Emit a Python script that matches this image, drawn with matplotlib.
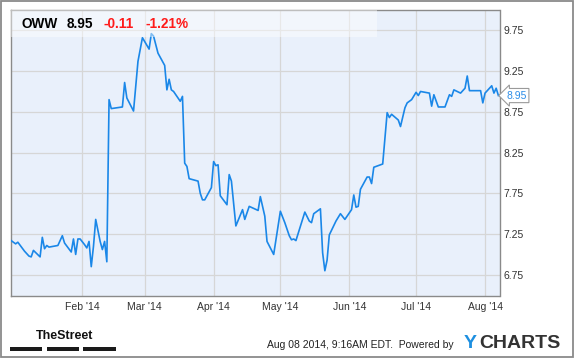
import matplotlib
matplotlib.use("Agg")
import matplotlib.pyplot as plt
import matplotlib.dates as mdates
from matplotlib.patches import Rectangle
import pandas as pd

# OWW daily close
dates = [
    "2013-12-31", "2014-01-02", "2014-01-03", "2014-01-06", "2014-01-08", "2014-01-09",
    "2014-01-10", "2014-01-13", "2014-01-14", "2014-01-15", "2014-01-16", "2014-01-17",
    "2014-01-21", "2014-01-23", "2014-01-24", "2014-01-27", "2014-01-28", "2014-01-29",
    "2014-01-30", "2014-01-31", "2014-02-02", "2014-02-03", "2014-02-04", "2014-02-05",
    "2014-02-06", "2014-02-07", "2014-02-09", "2014-02-10", "2014-02-11", "2014-02-12",
    "2014-02-13", "2014-02-14", "2014-02-19", "2014-02-20", "2014-02-21", "2014-02-24",
    "2014-02-26", "2014-02-28", "2014-03-03", "2014-03-04", "2014-03-05", "2014-03-07",
    "2014-03-10", "2014-03-11", "2014-03-12", "2014-03-13", "2014-03-14", "2014-03-17",
    "2014-03-18", "2014-03-19", "2014-03-20", "2014-03-21", "2014-03-25", "2014-03-26",
    "2014-03-27", "2014-03-28", "2014-03-31", "2014-04-01", "2014-04-02", "2014-04-03",
    "2014-04-04", "2014-04-07", "2014-04-08", "2014-04-09", "2014-04-11", "2014-04-14",
    "2014-04-15", "2014-04-17", "2014-04-21", "2014-04-22", "2014-04-24", "2014-04-25",
    "2014-04-28", "2014-05-01", "2014-05-03", "2014-05-05", "2014-05-06", "2014-05-07",
    "2014-05-08", "2014-05-12", "2014-05-14", "2014-05-15", "2014-05-16", "2014-05-19",
    "2014-05-20", "2014-05-21", "2014-05-22", "2014-05-23", "2014-05-26", "2014-05-28",
    "2014-05-30", "2014-06-02", "2014-06-03", "2014-06-04", "2014-06-05", "2014-06-06",
    "2014-06-09", "2014-06-10", "2014-06-11", "2014-06-12", "2014-06-16", "2014-06-18",
    "2014-06-19", "2014-06-20", "2014-06-23", "2014-06-24", "2014-06-26", "2014-06-27",
    "2014-06-29", "2014-07-01", "2014-07-02", "2014-07-03", "2014-07-07", "2014-07-08",
    "2014-07-09", "2014-07-11", "2014-07-14", "2014-07-16", "2014-07-17", "2014-07-18",
    "2014-07-21", "2014-07-23", "2014-07-24", "2014-07-25", "2014-07-30", "2014-07-31",
    "2014-08-01", "2014-08-04", "2014-08-05", "2014-08-06", "2014-08-07",
]
prices = [
    7.17, 7.13, 7.15, 7.04, 6.98, 6.97,
    7.05, 6.97, 7.21, 7.07, 7.11, 7.09,
    7.11, 7.23, 7.14, 7.03, 7.19, 7.00,
    7.19, 7.19, 7.12, 7.08, 7.16, 6.85,
    7.10, 7.43, 7.16, 7.06, 7.16, 6.91,
    8.90, 8.79, 8.81, 9.11, 8.92, 8.76,
    9.37, 9.66, 9.52, 9.71, 9.68, 9.47,
    9.32, 9.02, 9.15, 9.02, 9.00, 8.88,
    8.94, 8.12, 8.08, 7.93, 7.90, 7.75,
    7.67, 7.67, 7.82, 8.14, 8.09, 8.10,
    7.72, 7.61, 7.98, 7.90, 7.35, 7.55,
    7.43, 7.59, 7.54, 7.71, 7.47, 7.16,
    7.00, 7.53, 7.39, 7.23, 7.18, 7.19,
    7.17, 7.52, 7.41, 7.39, 7.50, 7.56,
    7.02, 6.80, 6.93, 7.24, 7.41, 7.50,
    7.43, 7.55, 7.73, 7.58, 7.59, 7.80,
    7.95, 7.95, 7.87, 8.07, 8.11, 8.74,
    8.68, 8.72, 8.65, 8.57, 8.80, 8.86,
    8.90, 8.99, 8.95, 9.00, 8.98, 8.82,
    8.96, 8.81, 8.81, 8.96, 8.94, 9.02,
    8.98, 9.04, 9.19, 9.01, 9.01, 8.86,
    8.98, 9.07, 8.98, 9.04, 8.95,
]
y_ticks = [6.75, 7.25, 7.75, 8.25, 8.75, 9.25, 9.75]
month_ticks = ["2014-02-01", "2014-03-01", "2014-04-01", "2014-05-01",
               "2014-06-01", "2014-07-01", "2014-08-01"]

W, H = 575, 358
plt.rcParams['font.family'] = ['Liberation Sans', 'DejaVu Sans']

fig = plt.figure(figsize=(W / 100, H / 100), dpi=100)
fig.patch.set_facecolor('white')

def fx(x):
    return x / W

def fy(y):
    return 1 - y / H

ax = fig.add_axes([fx(10.7), fy(296), fx(499.5) - fx(10.7), (296 - 10) / H])
ax.set_facecolor('#e9f0fb')

d = pd.to_datetime(dates)
ax.plot(d, prices, color='#1a87e8', lw=1.2, zorder=3)

ax.set_xlim(pd.Timestamp("2013-12-30 19:00"), pd.Timestamp("2014-08-07 12:00"))
ax.set_ylim(6.49, 10.0)

ax.set_xticks(pd.to_datetime(month_ticks))
ax.xaxis.set_major_formatter(mdates.DateFormatter("%b '%y"))
ax.set_yticks(y_ticks)
ax.set_yticklabels(["%.2f" % v for v in y_ticks])
ax.yaxis.tick_right()
ax.tick_params(axis='y', length=0, pad=2.7, labelsize=7.5, labelcolor='#333333')
ax.tick_params(axis='x', length=0, pad=4.5, labelsize=7.5, labelcolor='#333333')
ax.grid(True, color='#d6d6d6', lw=0.9, zorder=1)
ax.set_axisbelow(True)
for s in ax.spines.values():
    s.set_color('#8a8a8a')
    s.set_linewidth(1.0)

# light header band behind the quote
ax.add_patch(Rectangle((0, 1 - 26.7 / 286), 0.749, 26.7 / 286, transform=ax.transAxes,
                       facecolor='white', alpha=0.45, edgecolor='none', zorder=5))

# quote header
fig.text(fx(21.5), fy(23.5), "OWW", fontsize=9.8, fontweight='bold', color='black', va='center')
fig.text(fx(66.5), fy(23.5), "8.95", fontsize=9.8, fontweight='bold', color='black', va='center')
fig.text(fx(103.5), fy(23.5), "-0.11", fontsize=9.8, fontweight='bold', color='#ff1a1a', va='center')
fig.text(fx(145), fy(23.5), "-1.21%", fontsize=9.8, fontweight='bold', color='#ff1a1a', va='center')

# last price tag
ax.annotate("8.95", xy=(1, prices[-1]), xycoords=('axes fraction', 'data'),
            xytext=(5, 0), textcoords='offset points', va='center', ha='left',
            fontsize=7.5, color='#2b8de8', annotation_clip=False,
            bbox=dict(boxstyle='larrow,pad=0.2', fc='white', ec='#9a9a9a', lw=0.8))

# footer
fig.text(fx(36), fy(336), "TheStreet", fontsize=9, fontweight='bold', color='#111111', va='center')
for x0, x1 in [(10, 42), (46.7, 79), (83.3, 115.7)]:
    fig.add_artist(Rectangle((fx(x0), fy(350.7)), fx(x1) - fx(x0), 3.4 / H,
                             transform=fig.transFigure, facecolor='#1a1a1a', edgecolor='none'))
fig.text(fx(267), fy(345), "Aug 08 2014, 9:16AM EDT.  Powered by", fontsize=7.5,
         color='#222222', va='center')
fig.text(fx(464), fy(344), "Y", fontsize=14, fontweight='bold', color='#1d8fe0', va='center')
fig.text(fx(479), fy(344), "CHARTS", fontsize=14, fontweight='bold', color='#333333', va='center')

# outer frame
fig.add_artist(Rectangle((fx(1), fy(356.5)), fx(573) - fx(1), (356.5 - 1) / H,
                         transform=fig.transFigure, facecolor='none', edgecolor='#8a8a8a', lw=1.3))

fig.savefig("out.png", dpi=100)
